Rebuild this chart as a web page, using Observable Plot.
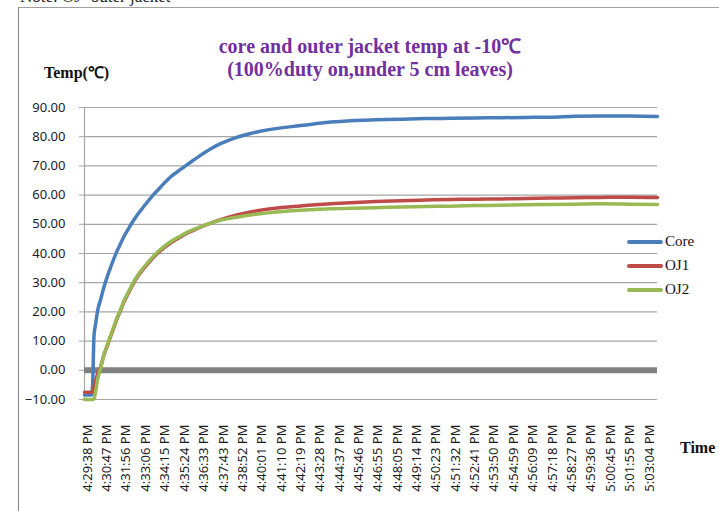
<!DOCTYPE html>
<html>
<head>
<meta charset="utf-8">
<script src="https://cdn.jsdelivr.net/npm/d3@7"></script>
<script src="https://cdn.jsdelivr.net/npm/@observablehq/plot@0.6"></script>
<style>
  html, body { margin: 0; padding: 0; background: #fff; }
  #wrap { position: relative; width: 719px; height: 511px; overflow: hidden; }
  #wrap svg { position: absolute; left: 0; top: 0; }
  .abs { position: absolute; white-space: nowrap; }
  .note { left: 20px; top: -13px; font: 17px "Liberation Serif", serif; color: #222; }
  .frame { left: 18px; top: 7px; width: 720px; height: 520px; border-left: 1.5px solid #808080; border-top: 1.5px solid #a0a0a0; }
  .title { left: 120px; width: 500px; text-align: center; font: bold 20px "Liberation Serif", serif; color: #7030a0; line-height: 23px; top: 35px; }
  .ylab { left: 44px; top: 61px; font: bold 16px "Liberation Serif", serif; color: #111; }
  .xlab { left: 680px; top: 439px; font: bold 16px "Liberation Serif", serif; color: #111; }
  .leg { left: 627px; font: 15px "Liberation Serif", serif; color: #111; display: flex; align-items: center; }
  .leg span.sw { display: inline-block; width: 36px; height: 4px; border-radius: 2px; margin-right: 2px; }
</style>
</head>
<body>
<div id="wrap"></div>
<script>
// ---- data (clock times, values in °C) ----
const times = ["4:29:27 PM","4:29:52 PM","4:29:56 PM","4:30:01 PM","4:30:07 PM","4:30:14 PM","4:30:24 PM","4:30:35 PM","4:30:48 PM","4:31:00 PM","4:31:11 PM","4:31:23 PM","4:31:36 PM","4:31:46 PM","4:32:01 PM","4:32:22 PM","4:32:36 PM","4:32:58 PM","4:33:23 PM","4:33:34 PM","4:33:59 PM","4:34:34 PM","4:35:10 PM","4:35:35 PM","4:36:21 PM","4:36:57 PM","4:37:33 PM","4:38:08 PM","4:39:20 PM","4:40:31 PM","4:42:18 PM","4:44:05 PM","4:45:17 PM","4:46:46 PM","4:48:15 PM","4:49:44 PM","4:51:14 PM","4:52:43 PM","4:54:12 PM","4:55:41 PM","4:57:11 PM","4:58:40 PM","5:00:09 PM","5:01:56 PM","5:03:33 PM"];
const core = [-8.5,-8.5,-5,12,16,20.5,24,28,32,35.2,38,40.8,43.4,45.5,48,51.3,53.3,56,59.0,60.2,62.8,66.2,68.8,70.5,73.6,75.8,77.6,79,81.1,82.5,83.8,85,85.5,85.8,86,86.2,86.3,86.4,86.5,86.6,86.7,87,87.1,87.1,86.9];
const oj1 = [-7.5,-7.5,-7.5,-5.5,-3.5,-1,1,4.8,8.3,11.5,14.4,17.6,20.5,23,25.9,29.8,32,34.8,37.6,38.8,41,43.6,45.7,47,49,50.4,51.6,52.6,54.2,55.3,56.3,57,57.4,57.8,58.1,58.3,58.5,58.6,58.7,58.8,59,59.1,59.2,59.3,59.2];
const oj2 = [-10,-10,-10,-9.8,-7,-3,0.5,4.8,8.6,11.9,14.8,18,20.9,23.4,26.3,30.2,32.4,35.2,38,39.2,41.4,44,46,47.3,49.1,50.4,51.4,52.1,53.2,54,54.8,55.3,55.5,55.7,55.9,56.1,56.2,56.4,56.5,56.7,56.8,56.9,57,56.9,56.8];
const seriesNames = ["Core","OJ1","OJ2"];
const seriesColors = ["#4a7ebb","#be4b48","#98b954"];
const tickLabels = ["4:29:38 PM","4:30:47 PM","4:31:56 PM","4:33:06 PM","4:34:15 PM","4:35:24 PM","4:36:33 PM","4:37:43 PM","4:38:52 PM","4:40:01 PM","4:41:10 PM","4:42:19 PM","4:43:28 PM","4:44:37 PM","4:45:46 PM","4:46:55 PM","4:48:05 PM","4:49:14 PM","4:50:23 PM","4:51:32 PM","4:52:41 PM","4:53:50 PM","4:54:59 PM","4:56:09 PM","4:57:18 PM","4:58:27 PM","4:59:36 PM","5:00:45 PM","5:01:55 PM","5:03:04 PM"];
const yTicks = [-10,0,10,20,30,40,50,60,70,80,90];

function secs(s) {
  const [hms, ap] = s.split(" ");
  let [h, m, sec] = hms.split(":").map(Number);
  if (ap === "PM" && h < 12) h += 12;
  return h * 3600 + m * 60 + sec;
}
const tickSecs = tickLabels.map(secs);
const labelBySec = new Map(tickSecs.map((t, i) => [t, tickLabels[i]]));

const rows = [];
[core, oj1, oj2].forEach((vals, k) => {
  vals.forEach((v, i) => rows.push({t: secs(times[i]), v, s: seriesNames[k]}));
});
const tDomain = d3.extent(times.map(secs));

const chart = Plot.plot({
  width: 719, height: 511,
  marginTop: 107, marginBottom: 112, marginLeft: 84, marginRight: 62,
  style: {fontFamily: "'Noto Sans', sans-serif", fontSize: "13px", background: "transparent"},
  x: {type: "linear", domain: tDomain},
  y: {domain: [-10, 90]},
  color: {domain: seriesNames, range: seriesColors},
  marks: [
    Plot.gridY(yTicks, {stroke: "#a6a6a6", strokeOpacity: 1, strokeWidth: 1.2}),
    Plot.axisY(yTicks, {tickSize: 5, tickPadding: 14, tickFormat: d3.format(".2f"), stroke: "#a6a6a6", fill: "#1a1a2a", label: null}),
    Plot.ruleX([tDomain[0]], {stroke: "#a6a6a6", strokeWidth: 1.2}),
    Plot.ruleY([0], {stroke: "#808080", strokeWidth: 6}),
    Plot.line(rows, {x: "t", y: "v", stroke: "s", z: "s", strokeWidth: 3.5, curve: "monotone-x"}),
    Plot.axisX(tickSecs, {tickSize: 0, tickPadding: 25, tickRotate: -90, tickFormat: d => labelBySec.get(d), fill: "#1a1a1a", label: null})
  ]
});

const wrap = document.getElementById("wrap");
wrap.appendChild(chart);

function addDiv(cls, html, style) {
  const d = document.createElement("div");
  d.className = "abs " + cls;
  d.innerHTML = html;
  if (style) Object.assign(d.style, style);
  wrap.appendChild(d);
  return d;
}
addDiv("frame", "");
addDiv("note", "Note: OJ- outer jacket");
addDiv("title", "core and outer jacket temp at -10℃<br>(100%duty on,under 5 cm leaves)");
addDiv("ylab", "Temp(℃)");
addDiv("xlab", "Time");
const legTops = [233, 257, 281];
seriesNames.forEach((n, i) => {
  addDiv("leg", `<span class="sw" style="background:${seriesColors[i]}"></span>${n}`, {top: legTops[i] + "px"});
});
</script>
</body>
</html>
